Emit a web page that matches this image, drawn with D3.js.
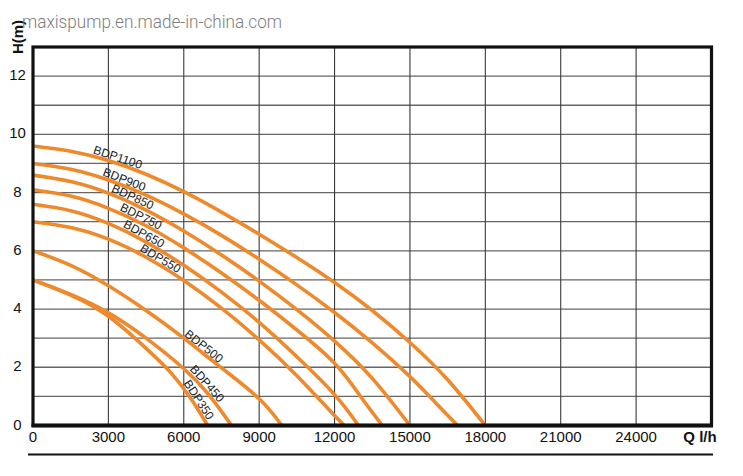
<!DOCTYPE html>
<html><head><meta charset="utf-8">
<script src="https://cdn.jsdelivr.net/npm/d3@7"></script>
<style>body{margin:0;background:#fff}svg{display:block}</style>
</head><body><svg id="c" width="743" height="476"></svg>
<script>
// ---- data (flow Q in l/h, head H in m) ----
const models = ["BDP1100","BDP900","BDP850","BDP750","BDP650","BDP550","BDP500","BDP450","BDP350"];
const bdp1100 = [[0,9.6],[1500,9.42],[3000,9.1],[4500,8.63],[6000,8.03],[7500,7.33],[9000,6.57],[10500,5.77],[12000,4.91],[13500,3.95],[15000,2.85],[16500,1.57],[18000,0]];
const bdp900  = [[0,9.0],[1500,8.8],[3000,8.43],[4500,7.91],[6000,7.27],[7500,6.53],[9000,5.71],[10500,4.83],[12000,3.88],[13500,2.84],[15000,1.68],[16000,0.8],[16900,0]];
const bdp850  = [[0,8.6],[1500,8.38],[3000,7.98],[4500,7.4],[6000,6.68],[7500,5.86],[9000,4.96],[10500,3.98],[12000,2.9],[13500,1.62],[15000,0]];
const bdp750  = [[0,8.1],[1500,7.88],[3000,7.46],[4500,6.86],[6000,6.1],[7500,5.24],[9000,4.3],[10500,3.28],[12000,2.14],[13000,1.04],[13900,0]];
const bdp650  = [[0,7.6],[1500,7.38],[3000,6.94],[4500,6.3],[6000,5.5],[7500,4.58],[9000,3.54],[10500,2.36],[12000,1.06],[12950,0]];
const bdp550  = [[0,7.0],[1500,6.8],[3000,6.4],[4500,5.78],[6000,4.98],[7500,4.03],[9000,2.94],[10500,1.71],[12000,0.34],[12400,0]];
const bdp500  = [[0,6.0],[1500,5.5],[3000,4.8],[4500,3.95],[6000,3.0],[7500,1.98],[9000,0.92],[9900,0]];
const bdp450  = [[0,5.0],[1500,4.5],[3000,3.87],[4500,3.0],[6000,1.95],[7000,1.05],[7900,0]];
const bdp350  = [[0,5.0],[1500,4.48],[3000,3.75],[4500,2.65],[5500,1.8],[6300,0.9],[6950,0]];
const curves = [bdp1100,bdp900,bdp850,bdp750,bdp650,bdp550,bdp500,bdp450,bdp350];
const labelFlow = [3300,3550,3870,4190,4300,4950,6650,6750,6400];
const xTicks = [0,3000,6000,9000,12000,15000,18000,21000,24000];
const yTicks = [0,2,4,6,8,10,12];
const xGrid = [3000,6000,9000,12000,15000,18000,21000,24000];
const yGrid = [1,2,3,4,5,6,7,8,9,10,11,12];
const xMax = 27000, yMax = 13;
const watermark = "maxispump.en.made-in-china.com";

// ---- drawing ----
const svg = d3.select("#c");
const x = d3.scaleLinear().domain([0,xMax]).range([33,711.5]);
const y = d3.scaleLinear().domain([0,yMax]).range([425.5,47]);
const font = "'Liberation Sans', Arial, Helvetica, sans-serif";

svg.append("rect").attr("width",743).attr("height",476).attr("fill","#fff");

// grid
svg.append("g").selectAll("line").data(yGrid).join("line")
  .attr("x1",x(0)).attr("x2",x(xMax)).attr("y1",d=>y(d)).attr("y2",d=>y(d))
  .attr("stroke","#666").attr("stroke-width",1.3);
svg.append("g").selectAll("line").data(xGrid).join("line")
  .attr("y1",y(0)).attr("y2",y(yMax)).attr("x1",d=>x(d)).attr("x2",d=>x(d))
  .attr("stroke","#3a3a3a").attr("stroke-width",1.1);

// curves
const line = d3.line().x(d=>x(d[0])).y(d=>y(d[1])).curve(d3.curveNatural);
const paths = svg.append("g").selectAll("path").data(curves).join("path")
  .attr("d",line).attr("fill","none").attr("stroke","#ee8a2c")
  .attr("stroke-width",3.6).attr("stroke-linecap","butt");

// labels along curves
paths.each(function(d,i){
  const p = this, L = p.getTotalLength(), tx = x(labelFlow[i]);
  let lo=0, hi=L;
  for(let k=0;k<40;k++){ const m=(lo+hi)/2; if(p.getPointAtLength(m).x<tx) lo=m; else hi=m; }
  const s=(lo+hi)/2, a=p.getPointAtLength(Math.max(0,s-4)), b=p.getPointAtLength(Math.min(L,s+4));
  const c=p.getPointAtLength(s);
  const ang=Math.atan2(b.y-a.y,b.x-a.x)*180/Math.PI;
  svg.append("text").attr("transform",`translate(${c.x},${c.y}) rotate(${ang})`)
    .attr("y",-2).attr("text-anchor","middle").attr("font-family",font)
    .attr("font-size",12).attr("fill","#222").text(models[i]);
});

// frame
svg.append("rect").attr("x",x(0)).attr("y",y(yMax)).attr("width",x(xMax)-x(0)).attr("height",y(0)-y(yMax))
  .attr("fill","none").attr("stroke","#111").attr("stroke-width",3.2);
svg.append("line").attr("x1",x(0)-1.5).attr("x2",x(xMax)+1.5).attr("y1",y(0)).attr("y2",y(0))
  .attr("stroke","#111").attr("stroke-width",4);

// tick labels
svg.append("g").selectAll("text").data(xTicks).join("text")
  .attr("x",d=>x(d)).attr("y",441.5).attr("text-anchor","middle")
  .attr("font-family",font).attr("font-size",15).attr("fill","#111").text(d=>d);
svg.append("g").selectAll("text").data(yTicks).join("text")
  .attr("x",17.5).attr("y",d=>y(d)+4).attr("text-anchor","middle")
  .attr("font-family",font).attr("font-size",15).attr("fill","#111").text(d=>d);

// axis titles
svg.append("text").attr("x",700).attr("y",442).attr("text-anchor","middle")
  .attr("font-family",font).attr("font-size",15).attr("font-weight","bold").attr("fill","#111").text("Q l/h");
svg.append("text").attr("transform","translate(22.5,37) rotate(-90)").attr("text-anchor","middle")
  .attr("font-family",font).attr("font-size",15).attr("font-weight","bold").attr("fill","#111").text("H(m)");

// watermark
svg.append("text").attr("x",22).attr("y",28).attr("font-family","Roboto, 'Open Sans', sans-serif")
  .attr("font-size",18).attr("font-weight",300).attr("fill","#7d7d7d")
  .attr("textLength",260).attr("lengthAdjust","spacingAndGlyphs").text(watermark);

// bottom rule
svg.append("line").attr("x1",28).attr("x2",713).attr("y1",454.5).attr("y2",454.5)
  .attr("stroke","#111").attr("stroke-width",1.8);
</script></body></html>
